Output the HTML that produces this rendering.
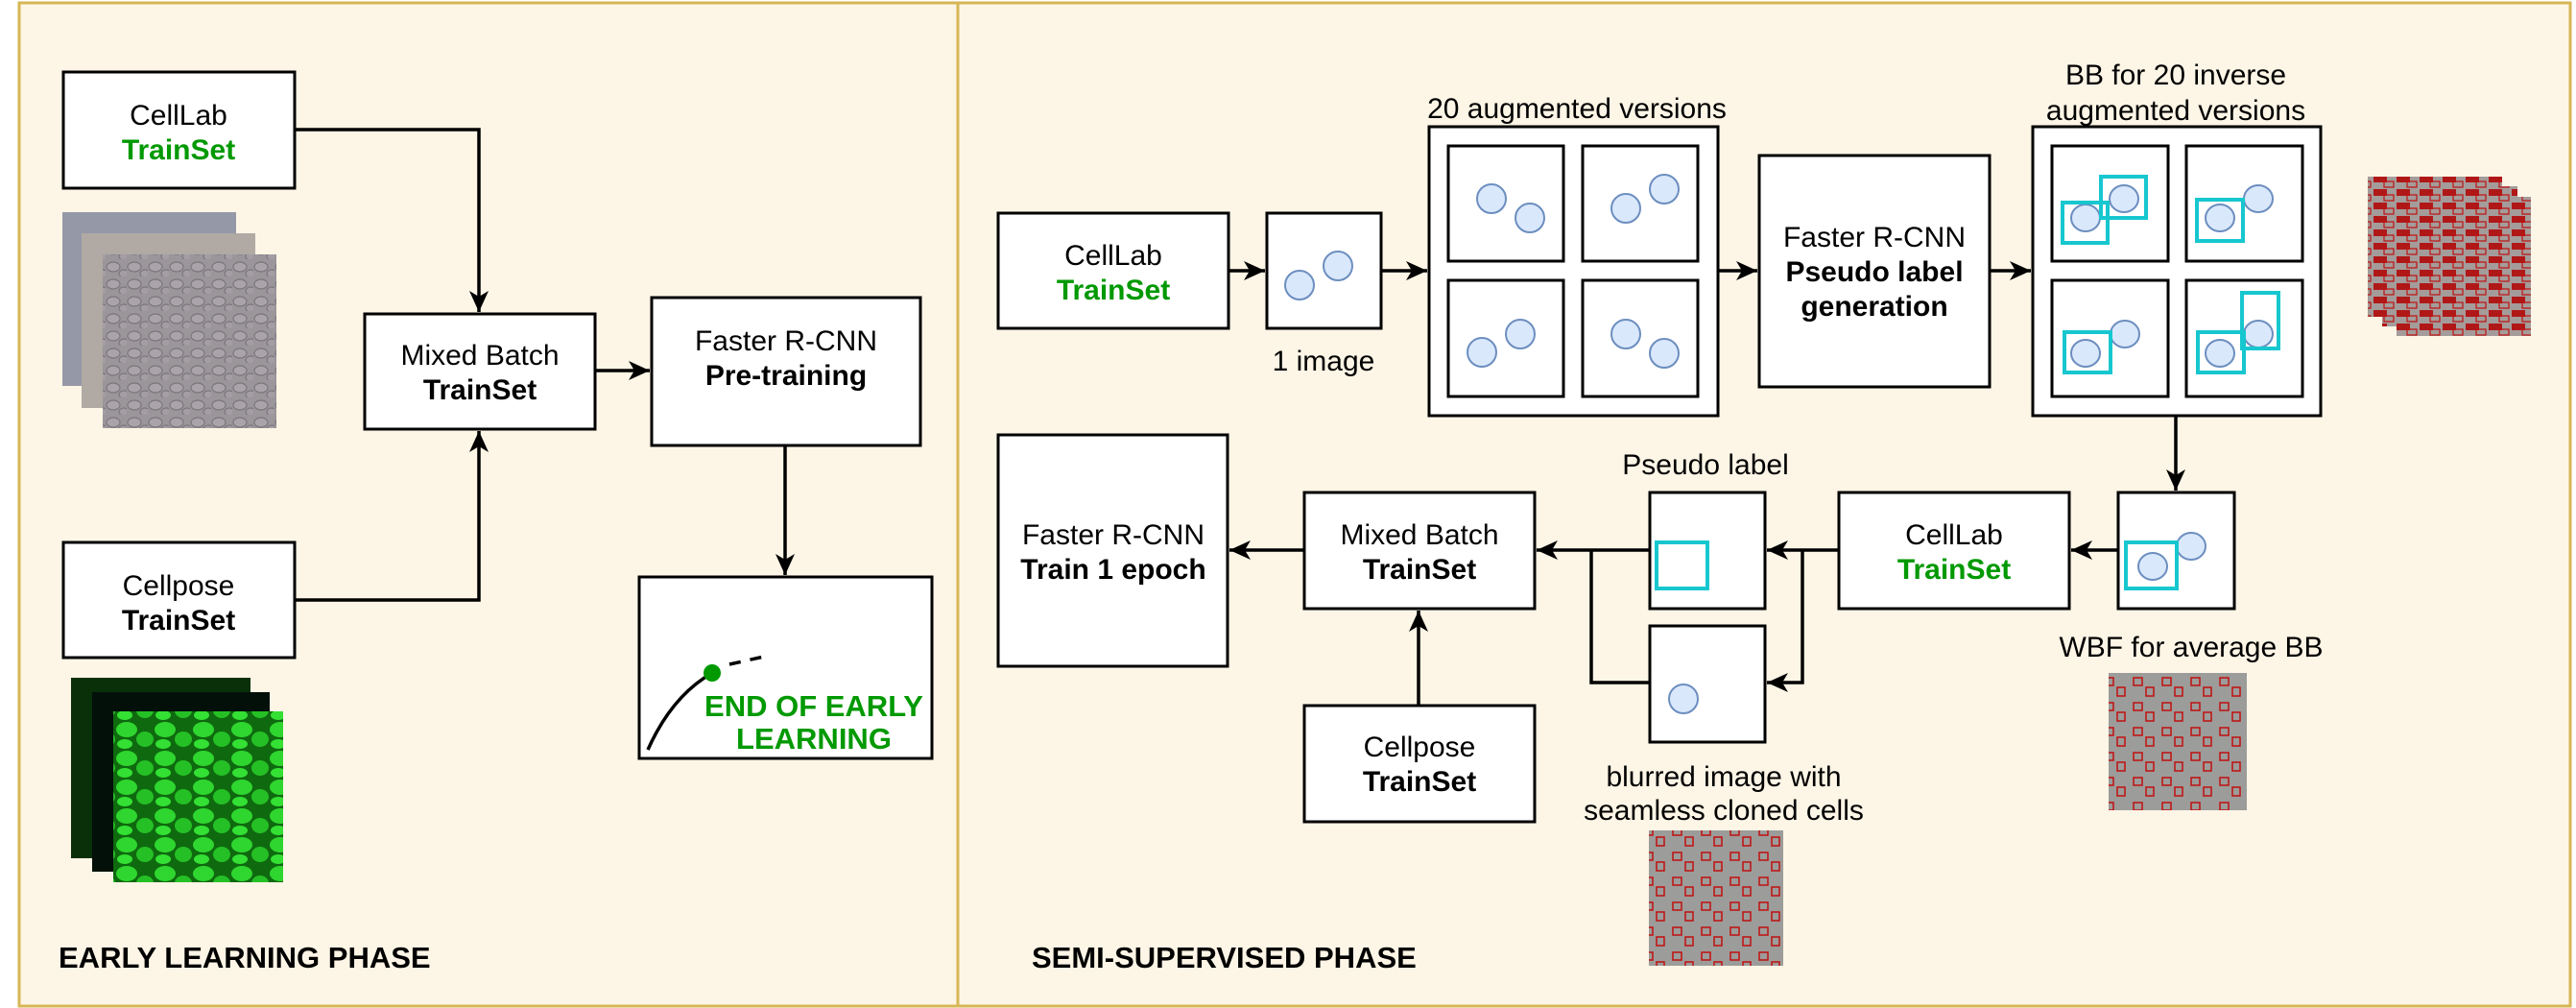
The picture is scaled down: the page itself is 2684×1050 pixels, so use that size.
<!DOCTYPE html>
<html><head><meta charset="utf-8"><style>
html,body{margin:0;padding:0;background:#fff}
svg{display:block}
text{font-family:"Liberation Sans",Arial,sans-serif}
</style></head><body>
<svg width="2684" height="1050" viewBox="0 0 2684 1050" xmlns="http://www.w3.org/2000/svg">
<defs>
<marker id="ah" markerUnits="userSpaceOnUse" markerWidth="24" markerHeight="20" refX="22" refY="10" orient="auto">
<path d="M0,0 L22,10 L0,20 L6,10 Z" fill="#000"/>
</marker>
<pattern id="cells" width="22" height="18" patternUnits="userSpaceOnUse">
<rect width="22" height="18" fill="#9a969a"/>
<ellipse cx="8" cy="8" rx="7" ry="5" fill="#aaa4aa" stroke="#7a767c" stroke-width="1.2"/>
<ellipse cx="19" cy="15" rx="5" ry="4" fill="#a49ea4" stroke="#7a767c" stroke-width="1.2"/>
</pattern>
<pattern id="stones" width="40" height="30" patternUnits="userSpaceOnUse">
<rect width="40" height="30" fill="#0f6a0f"/>
<ellipse cx="12" cy="10" rx="11" ry="8" fill="#2fd62f"/>
<ellipse cx="31" cy="20" rx="9" ry="8" fill="#25c025"/>
<ellipse cx="10" cy="25" rx="8" ry="5" fill="#33e033"/>
</pattern>
<pattern id="redbb" width="30" height="26" patternUnits="userSpaceOnUse">
<rect width="30" height="26" fill="#9c9c9a"/>
<rect x="3" y="4" width="9" height="8" fill="none" stroke="#c01010" stroke-width="1.5"/>
<rect x="16" y="14" width="8" height="9" fill="none" stroke="#c01010" stroke-width="1.5"/>
</pattern>
<pattern id="redbbd" width="24" height="14" patternUnits="userSpaceOnUse">
<rect width="24" height="14" fill="#a49c9a"/>
<rect x="1" y="1" width="14" height="7" fill="#b01818"/>
<rect x="12" y="7" width="10" height="6" fill="none" stroke="#c01010" stroke-width="1.2"/>
</pattern>
</defs>
<rect width="2684" height="1050" fill="#fff"/>
<rect x="20" y="3" width="978" height="1045" fill="#fdf5e6" stroke="#d6b656" stroke-width="3"/>
<rect x="998" y="3" width="1680" height="1045" fill="#fdf5e6" stroke="#d6b656" stroke-width="3"/>

<g stroke="#000" stroke-width="3" fill="#fff">
<rect x="66" y="75" width="241" height="121"/>
<rect x="380" y="327" width="240" height="120"/>
<rect x="679" y="310" width="280" height="154"/>
<rect x="666" y="601" width="305" height="189"/>
<rect x="66" y="565" width="241" height="120"/>
</g>
<rect x="65" y="221" width="181" height="181" fill="#9598a6"/>
<rect x="85" y="243" width="181" height="182" fill="#b0a9a4"/>
<rect x="107" y="265" width="181" height="181" fill="url(#cells)"/>
<rect x="74" y="706" width="187" height="188" fill="#0a300a"/>
<rect x="96" y="721" width="185" height="187" fill="#03100a"/>
<rect x="118" y="741" width="177" height="178" fill="url(#stones)"/>

<g font-size="30" text-anchor="middle">
<text x="186" y="130">CellLab</text>
<text x="186" y="166" font-weight="bold" fill="#009900">TrainSet</text>
<text x="500" y="380">Mixed Batch</text>
<text x="500" y="416" font-weight="bold">TrainSet</text>
<text x="819" y="365">Faster R-CNN</text>
<text x="819" y="401" font-weight="bold">Pre-training</text>
<text x="186" y="620">Cellpose</text>
<text x="186" y="656" font-weight="bold">TrainSet</text>
</g>
<g stroke="#000" stroke-width="3.5" fill="none">
<path d="M307,135 H499 V325" marker-end="url(#ah)"/>
<path d="M307,625 H499 V449" marker-end="url(#ah)"/>
<path d="M620,386 H677" marker-end="url(#ah)"/>
<path d="M818,464 V599" marker-end="url(#ah)"/>
<path d="M675,781 Q700,725 742,701"/>
<path d="M760,692 L796,684" stroke-dasharray="12,10"/>
</g>
<circle cx="742" cy="701" r="9" fill="#009900"/>
<g font-size="31" font-weight="bold" fill="#009900" text-anchor="middle">
<text x="848" y="746">END OF EARLY</text>
<text x="848" y="780">LEARNING</text>
</g>
<text x="61" y="1008" font-size="31" font-weight="bold">EARLY LEARNING PHASE</text>

<g stroke="#000" stroke-width="3" fill="#fff">
<rect x="1040" y="222" width="240" height="120"/>
<rect x="1320" y="222" width="119" height="120"/>
<rect x="1489" y="132" width="301" height="301"/>
<rect x="1509" y="152" width="120" height="120"/>
<rect x="1649" y="152" width="120" height="120"/>
<rect x="1509" y="292" width="120" height="121"/>
<rect x="1649" y="292" width="120" height="121"/>
<rect x="1833" y="162" width="240" height="241"/>
<rect x="2118" y="132" width="300" height="301"/>
<rect x="2138" y="152" width="121" height="120"/>
<rect x="2278" y="152" width="121" height="120"/>
<rect x="2138" y="292" width="121" height="121"/>
<rect x="2278" y="292" width="121" height="121"/>
<rect x="1040" y="453" width="239" height="241"/>
<rect x="1359" y="513" width="240" height="121"/>
<rect x="1359" y="735" width="240" height="121"/>
<rect x="1719" y="513" width="120" height="121"/>
<rect x="1719" y="652" width="120" height="121"/>
<rect x="1916" y="513" width="240" height="121"/>
<rect x="2207" y="513" width="121" height="121"/>
</g>
<g fill="#dae8fc" stroke="#6c8ebf" stroke-width="2">
<circle cx="1354" cy="297" r="15"/><circle cx="1394" cy="277" r="15"/>
<circle cx="1554" cy="207" r="15"/><circle cx="1594" cy="227" r="15"/>
<circle cx="1694" cy="217" r="15"/><circle cx="1734" cy="197" r="15"/>
<circle cx="1544" cy="367" r="15"/><circle cx="1584" cy="348" r="15"/>
<circle cx="1694" cy="348" r="15"/><circle cx="1734" cy="368" r="15"/>
<ellipse cx="2173" cy="227" rx="15" ry="14"/><ellipse cx="2213" cy="207" rx="15" ry="14"/>
<ellipse cx="2313" cy="227" rx="15" ry="14"/><ellipse cx="2353" cy="207" rx="15" ry="14"/>
<ellipse cx="2173" cy="368" rx="15" ry="14"/><ellipse cx="2214" cy="348" rx="15" ry="14"/>
<ellipse cx="2313" cy="368" rx="15" ry="14"/><ellipse cx="2353" cy="348" rx="15" ry="14"/>
<ellipse cx="2243" cy="590" rx="15" ry="14"/><ellipse cx="2283" cy="569" rx="15" ry="14"/>
<circle cx="1754" cy="728" r="15"/>
</g>
<g fill="none" stroke="#17c7cf" stroke-width="4">
<rect x="2149" y="211" width="47" height="42"/><rect x="2189" y="184" width="47" height="43"/>
<rect x="2289" y="208" width="48" height="43"/>
<rect x="2151" y="346" width="48" height="42"/>
<rect x="2290" y="346" width="48" height="42"/><rect x="2336" y="305" width="38" height="58"/>
<rect x="2215" y="565" width="53" height="48"/>
<rect x="1726" y="565" width="53" height="48"/>
</g>
<g font-size="30" text-anchor="middle">
<text x="1160" y="276">CellLab</text>
<text x="1160" y="312" font-weight="bold" fill="#009900">TrainSet</text>
<text x="1379" y="386">1 image</text>
<text x="1643" y="123">20 augmented versions</text>
<text x="1953" y="257">Faster R-CNN</text>
<text x="1953" y="293" font-weight="bold">Pseudo label</text>
<text x="1953" y="329" font-weight="bold">generation</text>
<text x="2267" y="88">BB for 20 inverse</text>
<text x="2267" y="125">augmented versions</text>
<text x="1160" y="567">Faster R-CNN</text>
<text x="1160" y="603" font-weight="bold">Train 1 epoch</text>
<text x="1479" y="567">Mixed Batch</text>
<text x="1479" y="603" font-weight="bold">TrainSet</text>
<text x="1479" y="788">Cellpose</text>
<text x="1479" y="824" font-weight="bold">TrainSet</text>
<text x="1777" y="494">Pseudo label</text>
<text x="1796" y="819">blurred image with</text>
<text x="1796" y="854">seamless cloned cells</text>
<text x="2036" y="567">CellLab</text>
<text x="2036" y="603" font-weight="bold" fill="#009900">TrainSet</text>
<text x="2283" y="684">WBF for average BB</text>
</g>
<text x="1075" y="1008" font-size="31" font-weight="bold">SEMI-SUPERVISED PHASE</text>
<g stroke="#000" stroke-width="3.5" fill="none">
<path d="M1280,282 H1318" marker-end="url(#ah)"/>
<path d="M1439,282 H1487" marker-end="url(#ah)"/>
<path d="M1790,282 H1831" marker-end="url(#ah)"/>
<path d="M2073,282 H2116" marker-end="url(#ah)"/>
<path d="M2267,433 V511" marker-end="url(#ah)"/>
<path d="M2207,573 H2158" marker-end="url(#ah)"/>
<path d="M1916,573 H1841" marker-end="url(#ah)"/>
<path d="M1878,573 V711 H1841" marker-end="url(#ah)"/>
<path d="M1719,573 H1601" marker-end="url(#ah)"/>
<path d="M1719,711 H1658 V573"/>
<path d="M1359,573 H1281" marker-end="url(#ah)"/>
<path d="M1478,735 V636" marker-end="url(#ah)"/>
</g>
<rect x="1718" y="865" width="140" height="141" fill="url(#redbb)"/>
<rect x="2197" y="701" width="144" height="143" fill="url(#redbb)"/>
<rect x="2467" y="184" width="140" height="146" fill="url(#redbbd)"/>
<rect x="2482" y="194" width="141" height="146" fill="url(#redbbd)"/>
<rect x="2497" y="205" width="140" height="145" fill="url(#redbbd)"/>
</svg>
</body></html>
